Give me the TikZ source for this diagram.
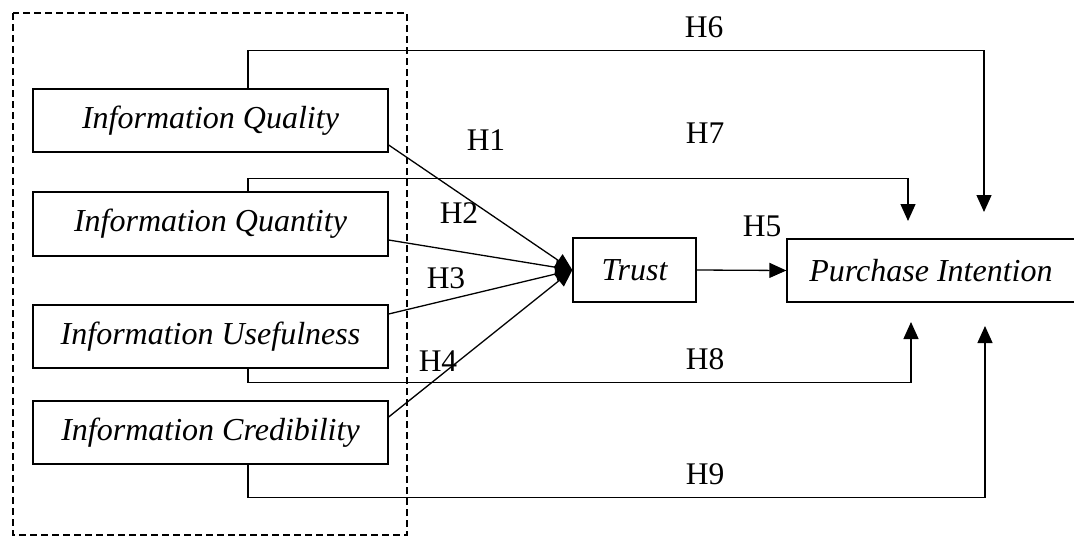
\documentclass[tikz,border=0pt]{standalone}
\usepackage{fontspec}
\setmainfont{Liberation Serif}
\usetikzlibrary{arrows.meta,calc}
\begin{document}
\begin{tikzpicture}[x=1pt,y=-1pt,
  box/.style={draw,line width=1.3pt,inner sep=0pt,font=\fontsize{32}{36}\selectfont\itshape},
  lab/.style={inner sep=0pt,font=\fontsize{31.5}{36}\selectfont},
  conn/.style={line width=1.3pt},
  arr/.style={conn,-{Triangle[length=17pt,width=15pt]}}]
\clip (0,0) rectangle (1074,536);
% dashed frame
\draw[line width=2pt,dash pattern=on 7pt off 4pt] (13,13) rectangle (407,535);
% boxes
\node[box,minimum width=355pt,minimum height=63pt] (IQ) at (210.5,120.5) {Information Quality};
\node[box,minimum width=355pt,minimum height=64pt] (IQn) at (210.5,224) {Information Quantity};
\node[box,minimum width=355pt,minimum height=63pt] (IU) at (210.5,336.5) {Information Usefulness};
\node[box,minimum width=355pt,minimum height=63pt] (IC) at (210.5,432.5) {Information Credibility};
\node[box,minimum width=123pt,minimum height=64pt] (T) at (634.5,270) {Trust};
\node[box,minimum width=288pt,minimum height=63pt] (PI) at (931,270.5) {Purchase Intention};
% free ends near Purchase Intention
\coordinate (t6) at (984,212);
\coordinate (t7) at (908,221);
\coordinate (t8) at (911,322);
\coordinate (t9) at (985,326);
% H1-H4
\draw[arr] ($(IQ.east)+(0,24.5)$) -- (T.west);
\draw[arr] ($(IQn.east)+(0,16)$) -- (T.west);
\draw[arr] ($(IU.east)+(0,-22.5)$) -- (T.west);
\draw[arr] ($(IC.east)+(0,-15.5)$) -- (T.west);
% H5
\draw[arr] (T.east) -- (PI.west);
% H6-H9
\draw[arr] ($(IQ.north)+(37.5,0)$) -- ++(0,-38) -| (t6);
\draw[arr] ($(IQn.north)+(37.5,0)$) -- ++(0,-13) -| (t7);
\draw[arr] ($(IU.south)+(37.5,0)$) -- ++(0,14) -| (t8);
\draw[arr] ($(IC.south)+(37.5,0)$) -- ++(0,33) -| (t9);
% labels
\node[lab] (h1) at (486,140) {H1};
\node[lab] (h2) at (459,213) {H2};
\node[lab] (h3) at (446,278) {H3};
\node[lab] (h4) at (438,361) {H4};
\node[lab] (h5) at (762,226) {H5};
\node[lab] (h6) at (704,27) {H6};
\node[lab] (h7) at (705,133) {H7};
\node[lab] (h8) at (705,359) {H8};
\node[lab] (h9) at (705,474) {H9};
\end{tikzpicture}
\end{document}
